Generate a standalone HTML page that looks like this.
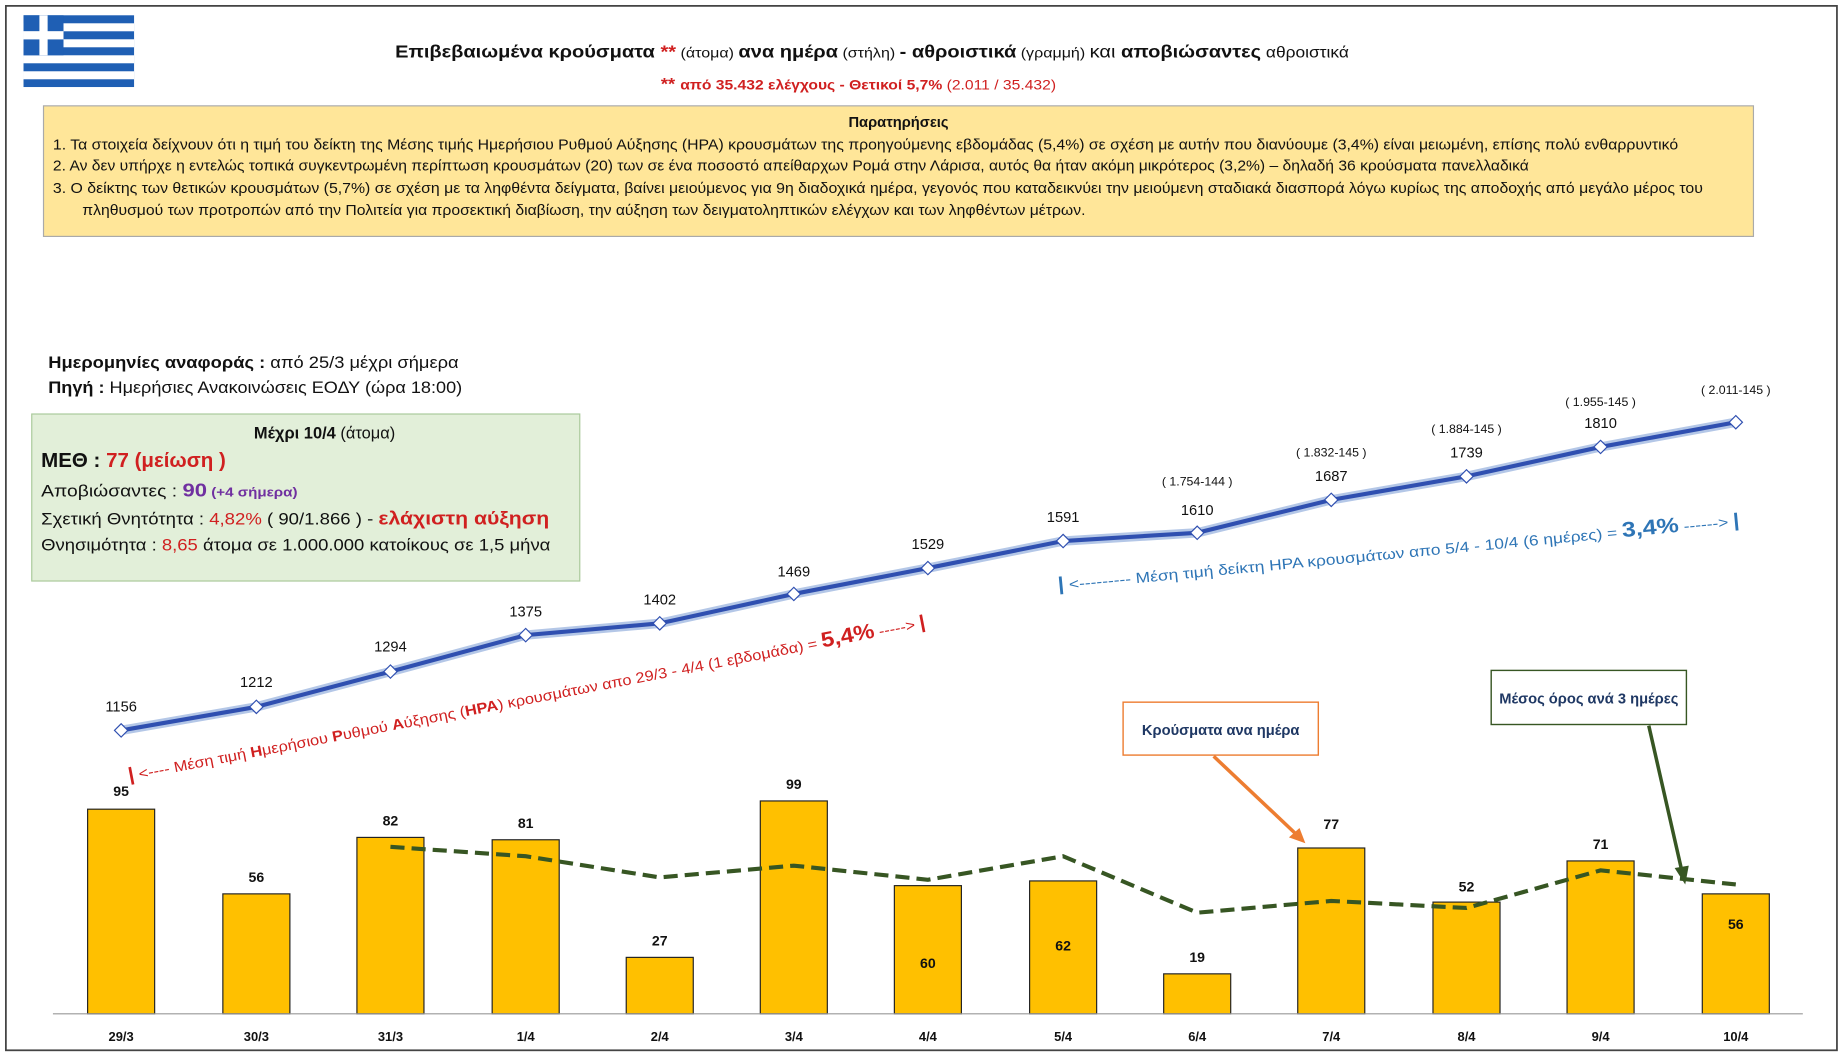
<!DOCTYPE html>
<html><head><meta charset="utf-8"><style>
html,body{margin:0;padding:0;background:#fff}
svg{display:block}
text{font-family:"Liberation Sans","DejaVu Sans",sans-serif}
</style></head><body>
<svg width="1844" height="1055" viewBox="0 0 1568 897" preserveAspectRatio="none" xmlns="http://www.w3.org/2000/svg">
<rect x="0" y="0" width="1568" height="897" fill="#fff"/>
<rect x="5" y="5" width="1557" height="888" fill="none" stroke="#444" stroke-width="1.5"/>
<g>
<rect x="20" y="13" width="94" height="61" fill="#1f5fb4"/>
<rect x="20" y="19.8" width="94" height="6.8" fill="#fff"/>
<rect x="20" y="33.4" width="94" height="6.8" fill="#fff"/>
<rect x="20" y="47" width="94" height="6.8" fill="#fff"/>
<rect x="20" y="60.6" width="94" height="6.8" fill="#fff"/>
<rect x="20" y="13" width="34" height="34" fill="#1f5fb4"/>
<rect x="33.5" y="13" width="7" height="34" fill="#fff"/>
<rect x="20" y="26.5" width="34" height="7" fill="#fff"/>
</g>
<text x="336" y="49" textLength="811" lengthAdjust="spacingAndGlyphs" font-size="15" fill="#111"><tspan font-weight="bold">Επιβεβαιωμένα κρούσματα </tspan><tspan font-weight="bold" fill="#d02020">**</tspan><tspan font-size="12"> (άτομα) </tspan><tspan font-weight="bold">ανα ημέρα</tspan><tspan font-size="12"> (στήλη) </tspan><tspan font-weight="bold">- αθροιστικά</tspan><tspan font-size="12"> (γραμμή) </tspan>και <tspan font-weight="bold">αποβιώσαντες</tspan><tspan font-size="13"> αθροιστικά</tspan></text>
<text x="562" y="76" textLength="336" lengthAdjust="spacingAndGlyphs" font-size="12" fill="#d02020"><tspan font-weight="bold" font-size="14">** </tspan><tspan font-weight="bold">από 35.432 ελέγχους - Θετικοί 5,7%</tspan>  (2.011 / 35.432)</text>
<rect x="37" y="90" width="1454" height="111" fill="#ffe699" stroke="#aaa"/>
<text x="764" y="108" text-anchor="middle" font-size="12.5" font-weight="bold" fill="#111">Παρατηρήσεις</text>
<g font-size="12.5" fill="#111">
<text x="45" y="127" textLength="1382" lengthAdjust="spacingAndGlyphs">1.  Τα στοιχεία δείχνουν ότι η τιμή του δείκτη της Μέσης τιμής Ημερήσιου Ρυθμού Αύξησης (ΗΡΑ) κρουσμάτων της προηγούμενης εβδομάδας (5,4%) σε σχέση με αυτήν που διανύουμε (3,4%) είναι μειωμένη, επίσης πολύ ενθαρρυντικό</text>
<text x="45" y="145" textLength="1255" lengthAdjust="spacingAndGlyphs">2.  Αν δεν υπήρχε η εντελώς τοπικά συγκεντρωμένη περίπτωση κρουσμάτων (20) των σε ένα ποσοστό απείθαρχων Ρομά στην Λάρισα, αυτός θα ήταν ακόμη μικρότερος (3,2%) – δηλαδή 36 κρούσματα πανελλαδικά</text>
<text x="45" y="164" textLength="1403" lengthAdjust="spacingAndGlyphs">3.  Ο δείκτης των θετικών κρουσμάτων (5,7%) σε σχέση με τα ληφθέντα δείγματα, βαίνει μειούμενος για 9η διαδοχικά ημέρα, γεγονός που καταδεικνύει την μειούμενη σταδιακά διασπορά λόγω κυρίως της αποδοχής από μεγάλο μέρος του</text>
<text x="70" y="183" textLength="853" lengthAdjust="spacingAndGlyphs">πληθυσμού των προτροπών από την Πολιτεία για προσεκτική διαβίωση, την αύξηση των δειγματοληπτικών ελέγχων και των ληφθέντων μέτρων.</text>
</g>
<text x="41" y="313" textLength="349" lengthAdjust="spacingAndGlyphs" font-size="14" fill="#111"><tspan font-weight="bold">Ημερομηνίες αναφοράς  :</tspan>  από 25/3 μέχρι σήμερα</text>
<text x="41" y="334" textLength="352" lengthAdjust="spacingAndGlyphs" font-size="14" fill="#111"><tspan font-weight="bold">Πηγή  :</tspan>  Ημερήσιες Ανακοινώσεις ΕΟΔΥ (ώρα 18:00)</text>
<rect x="27" y="352" width="466" height="142" fill="#e2efd9" stroke="#a9c99a"/>
<text x="276" y="373" text-anchor="middle" font-size="14" fill="#111"><tspan font-weight="bold">Μέχρι 10/4</tspan>  (άτομα)</text>
<text x="35" y="397" textLength="157" lengthAdjust="spacingAndGlyphs" font-size="17" font-weight="bold" fill="#111">ΜΕΘ :  <tspan fill="#d02020">77 (μείωση )</tspan></text>
<text x="35" y="422" textLength="218" lengthAdjust="spacingAndGlyphs" font-size="14" fill="#111">Αποβιώσαντες :   <tspan font-size="16" font-weight="bold" fill="#7030a0">90</tspan><tspan font-size="11" font-weight="bold" fill="#7030a0"> (+4 σήμερα)</tspan></text>
<text x="35" y="446" textLength="432" lengthAdjust="spacingAndGlyphs" font-size="14" fill="#111">Σχετική Θνητότητα :  <tspan fill="#d02020">4,82%</tspan>   ( 90/1.866  ) - <tspan font-size="16" font-weight="bold" fill="#d02020">ελάχιστη αύξηση</tspan></text>
<text x="35" y="468" textLength="433" lengthAdjust="spacingAndGlyphs" font-size="14" fill="#111">Θνησιμότητα :  <tspan fill="#d02020">8,65</tspan> άτομα σε 1.000.000 κατοίκους σε 1,5 μήνα</text>
<g fill="#ffc000" stroke="#222" stroke-width="1">
<rect x="74.5" y="688" width="57" height="174"/>
<rect x="189.5" y="760" width="57" height="102"/>
<rect x="303.5" y="712" width="57" height="150"/>
<rect x="418.5" y="714" width="57" height="148"/>
<rect x="532.5" y="814" width="57" height="48"/>
<rect x="646.5" y="681" width="57" height="181"/>
<rect x="760.5" y="753" width="57" height="109"/>
<rect x="875.5" y="749" width="57" height="113"/>
<rect x="989.5" y="828" width="57" height="34"/>
<rect x="1103.5" y="721" width="57" height="141"/>
<rect x="1218.5" y="767" width="57" height="95"/>
<rect x="1332.5" y="732" width="57" height="130"/>
<rect x="1447.5" y="760" width="57" height="102"/>
</g>
<line x1="45" y1="862" x2="1533" y2="862" stroke="#999"/>
<g font-size="12" font-weight="bold" fill="#111" text-anchor="middle">
<text x="103" y="677">95</text><text x="218" y="750">56</text><text x="332" y="702">82</text><text x="447" y="704">81</text><text x="561" y="804">27</text><text x="675" y="671">99</text><text x="789" y="823">60</text><text x="904" y="808">62</text><text x="1018" y="818">19</text><text x="1132" y="705">77</text><text x="1247" y="758">52</text><text x="1361" y="722">71</text><text x="1476" y="790">56</text>
</g>
<g font-size="11" font-weight="bold" fill="#111" text-anchor="middle">
<text x="103" y="885">29/3</text><text x="218" y="885">30/3</text><text x="332" y="885">31/3</text><text x="447" y="885">1/4</text><text x="561" y="885">2/4</text><text x="675" y="885">3/4</text><text x="789" y="885">4/4</text><text x="904" y="885">5/4</text><text x="1018" y="885">6/4</text><text x="1132" y="885">7/4</text><text x="1247" y="885">8/4</text><text x="1361" y="885">9/4</text><text x="1476" y="885">10/4</text>
</g>
<polyline points="332,720 447,728 561,746 675,736 789,748 904,728 1018,776 1132,766 1247,772 1361,740 1476,752" fill="none" stroke="#375623" stroke-width="3.5" stroke-dasharray="12,6"/>
<polyline points="103,621 218,601 332,571 447,540 561,530 675,505 789,483 904,460 1018,453 1132,425 1247,405 1361,380 1476,359" fill="none" stroke="#b4c7e7" stroke-width="8"/>
<polyline points="103,621 218,601 332,571 447,540 561,530 675,505 789,483 904,460 1018,453 1132,425 1247,405 1361,380 1476,359" fill="none" stroke="#2f4fb0" stroke-width="3.5"/>
<g fill="#fff" stroke="#2f4fb0" stroke-width="1">
<rect x="-4" y="-4" width="8" height="8" transform="translate(103,621) rotate(45)"/><rect x="-4" y="-4" width="8" height="8" transform="translate(218,601) rotate(45)"/><rect x="-4" y="-4" width="8" height="8" transform="translate(332,571) rotate(45)"/><rect x="-4" y="-4" width="8" height="8" transform="translate(447,540) rotate(45)"/><rect x="-4" y="-4" width="8" height="8" transform="translate(561,530) rotate(45)"/><rect x="-4" y="-4" width="8" height="8" transform="translate(675,505) rotate(45)"/><rect x="-4" y="-4" width="8" height="8" transform="translate(789,483) rotate(45)"/><rect x="-4" y="-4" width="8" height="8" transform="translate(904,460) rotate(45)"/><rect x="-4" y="-4" width="8" height="8" transform="translate(1018,453) rotate(45)"/><rect x="-4" y="-4" width="8" height="8" transform="translate(1132,425) rotate(45)"/><rect x="-4" y="-4" width="8" height="8" transform="translate(1247,405) rotate(45)"/><rect x="-4" y="-4" width="8" height="8" transform="translate(1361,380) rotate(45)"/><rect x="-4" y="-4" width="8" height="8" transform="translate(1476,359) rotate(45)"/>
</g>
<g font-size="12.5" fill="#111" text-anchor="middle">
<text x="103" y="605">1156</text><text x="218" y="584">1212</text><text x="332" y="554">1294</text><text x="447" y="524">1375</text><text x="561" y="514">1402</text><text x="675" y="490">1469</text><text x="789" y="467">1529</text><text x="904" y="444">1591</text><text x="1018" y="438">1610</text><text x="1132" y="409">1687</text><text x="1247" y="389">1739</text><text x="1361" y="364">1810</text>
</g>
<g font-size="10.5" fill="#111" text-anchor="middle">
<text x="1018" y="413">( 1.754-144 )</text><text x="1132" y="388">( 1.832-145 )</text><text x="1247" y="368">( 1.884-145 )</text><text x="1361" y="345">( 1.955-145 )</text><text x="1476" y="335">( 2.011-145 )</text>
</g>
<text transform="translate(110,664) rotate(-10.9)" textLength="690" lengthAdjust="spacingAndGlyphs" font-size="12.5" fill="#d02020"><tspan font-size="16" font-weight="bold">|</tspan> &lt;----   Μέση τιμή <tspan font-weight="bold">Η</tspan>μερήσιου <tspan font-weight="bold">Ρ</tspan>υθμού <tspan font-weight="bold">Α</tspan>ύξησης (<tspan font-weight="bold">ΗΡΑ</tspan>) κρουσμάτων απο 29/3 - 4/4 (1 εβδομάδα) = <tspan font-size="18" font-weight="bold">5,4%</tspan>  -----&gt; <tspan font-size="16" font-weight="bold">|</tspan></text>
<text transform="translate(900,502) rotate(-5.4)" textLength="582" lengthAdjust="spacingAndGlyphs" font-size="12.5" fill="#2e75b6"><tspan font-size="16" font-weight="bold">|</tspan> &lt;---------     Μέση τιμή δείκτη ΗΡΑ κρουσμάτων απο 5/4 - 10/4 (6 ημέρες) =  <tspan font-size="18" font-weight="bold">3,4%</tspan> ------&gt; <tspan font-size="16" font-weight="bold">|</tspan></text>
<rect x="955" y="597" width="166" height="45" fill="#fff" stroke="#ed7d31" stroke-width="1.2"/>
<text x="1038" y="625" text-anchor="middle" font-size="12.5" font-weight="bold" fill="#1f3864">Κρούσματα ανα ημέρα</text>
<line x1="1032" y1="643" x2="1104" y2="711" stroke="#ed7d31" stroke-width="3"/>
<polygon points="1110,717 1096,712 1105,704" fill="#ed7d31"/>
<rect x="1268" y="570" width="166" height="46" fill="#fff" stroke="#375623" stroke-width="1.2"/>
<text x="1351" y="598" text-anchor="middle" font-size="12.5" font-weight="bold" fill="#1f3864">Μέσος όρος ανά 3 ημέρες</text>
<line x1="1402" y1="617" x2="1430" y2="740" stroke="#375623" stroke-width="3"/>
<polygon points="1433,752 1424,738 1436,736" fill="#375623"/>
</svg>
</body></html>
